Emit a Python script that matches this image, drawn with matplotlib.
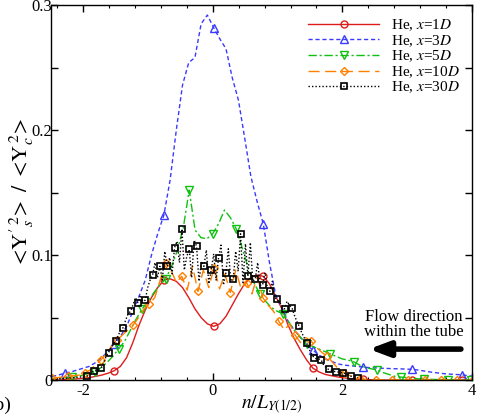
import numpy as np
import matplotlib
matplotlib.use("Agg")
import matplotlib.pyplot as plt
from matplotlib.ticker import FixedLocator, FuncFormatter

plt.rcParams['font.family'] = ['Liberation Serif', 'DejaVu Serif']
plt.rcParams['mathtext.fontset'] = 'stix'

# ---------------- data ----------------
labels = ["He, $x$=1$D$", "He, $x$=3$D$", "He, $x$=5$D$", "He, $x$=10$D$", "He, $x$=30$D$"]

# x = 1D and x = 3D share the same sampling grid
rb_x = np.linspace(-2.482, 4.039, 69)
red_y = [0.0, 0.0, 0.0003, 0.0007, 0.001, 0.0015, 0.002, 0.003, 0.004, 0.0055,
         0.0075, 0.011, 0.018, 0.030, 0.044, 0.056, 0.066, 0.074, 0.080, 0.081,
         0.079, 0.074, 0.066, 0.057, 0.050, 0.045, 0.043, 0.045, 0.051, 0.060,
         0.069, 0.077, 0.082, 0.084, 0.083, 0.077, 0.067, 0.057, 0.044, 0.033,
         0.024, 0.016, 0.0095, 0.0065, 0.0045, 0.0035, 0.0025, 0.0018, 0.0012, 0.0008,
         0.0005, 0.0003, 0.0002, 0.0001, 0.0, 0.0, 0.0, 0.0, 0.0, 0.0,
         0.0, 0.0, 0.0, 0.0, 0.0, 0.0, 0.0, 0.0, 0.0]
blue_y = [0.003, 0.004, 0.0055, 0.0065, 0.008, 0.0095, 0.011, 0.014, 0.018, 0.023,
          0.029, 0.035, 0.043, 0.055, 0.067, 0.080, 0.100, 0.117, 0.132, 0.160,
          0.200, 0.236, 0.254, 0.258, 0.285, 0.292, 0.282, 0.273, 0.265, 0.242,
          0.224, 0.194, 0.163, 0.143, 0.125, 0.094, 0.068, 0.058, 0.047, 0.040,
          0.034, 0.028, 0.024, 0.020, 0.017, 0.015, 0.013, 0.012, 0.0115, 0.011,
          0.0105, 0.010, 0.0098, 0.0095, 0.0093, 0.0091, 0.009, 0.0088, 0.0086, 0.008,
          0.0072, 0.0064, 0.0058, 0.0052, 0.0048, 0.0045, 0.0042, 0.0035, 0.003]

green_x = np.linspace(-2.543, 3.991, 73)
green_y = [0.001, 0.0012, 0.0015, 0.002, 0.0025, 0.003, 0.004, 0.0055, 0.0067, 0.010,
           0.014, 0.019, 0.025, 0.031, 0.040, 0.049, 0.057, 0.063, 0.070, 0.076,
           0.081, 0.091, 0.104, 0.122, 0.152, 0.120, 0.114, 0.113, 0.117, 0.125,
           0.136, 0.130, 0.121, 0.106, 0.090, 0.078, 0.069, 0.063, 0.058, 0.055,
           0.053, 0.046, 0.039, 0.034, 0.029, 0.027, 0.025, 0.023, 0.021, 0.019,
           0.017, 0.016, 0.0147, 0.012, 0.010, 0.009, 0.008, 0.006, 0.0045, 0.003,
           0.0024, 0.002, 0.0015, 0.001, 0.0008, 0.0006, 0.0005, 0.0004, 0.0003, 0.0002,
           0.0001, 0.0001, 0.0001]

orange_x = np.linspace(-2.48, 4.02, 79)
orange_y = [0.0015, 0.002, 0.0025, 0.003, 0.0035, 0.004, 0.0055, 0.008, 0.012, 0.016,
            0.021, 0.027, 0.032, 0.036, 0.040, 0.044, 0.050, 0.057, 0.061, 0.066,
            0.080, 0.094, 0.088, 0.078, 0.083, 0.072, 0.091, 0.071, 0.088, 0.074,
            0.090, 0.073, 0.085, 0.070, 0.088, 0.073, 0.078, 0.069, 0.083, 0.066,
            0.060, 0.055, 0.047, 0.040, 0.045, 0.036, 0.030, 0.034, 0.031, 0.026,
            0.022, 0.019, 0.014, 0.009, 0.006, 0.004, 0.002, 0.001, 0.0005, 0.0004,
            0.0003, 0.0003, 0.0002, 0.0002, 0.0002, 0.0001, 0.0001, 0.0001, 0.0001, 0.0001,
            0.0, 0.0, 0.0, 0.0, 0.0, 0.0, 0.0, 0.0, 0.0]

black_x = np.linspace(-2.4785, 2.24, 126)
black_y = [0.0, 0.0, 0.0005, 0.001, 0.001, 0.0012, 0.0015, 0.0015, 0.002, 0.002,
           0.0022, 0.0025, 0.0025, 0.0028,
           0.003, 0.004, 0.006,
           0.0075, 0.008, 0.009,
           0.0095, 0.014, 0.019,
           0.022, 0.026, 0.029,
           0.031, 0.036, 0.040,
           0.042, 0.048, 0.053,
           0.055, 0.060, 0.066,
           0.062, 0.068, 0.063,
           0.064, 0.074, 0.080,
           0.084, 0.094, 0.082,
           0.091, 0.080, 0.103,
           0.091, 0.098, 0.085,
           0.106, 0.111, 0.094,
           0.121, 0.088, 0.099,
           0.1045, 0.082, 0.112,
           0.107, 0.079, 0.095,
           0.091, 0.104, 0.077,
           0.088, 0.101, 0.080,
           0.0976, 0.108, 0.076,
           0.086, 0.105, 0.079,
           0.081, 0.103, 0.087,
           0.117, 0.078, 0.109,
           0.083, 0.110, 0.079,
           0.081, 0.094, 0.076,
           0.076, 0.086, 0.073,
           0.071, 0.079, 0.066,
           0.0645, 0.062, 0.060,
           0.057, 0.063, 0.060,
           0.058, 0.052, 0.047,
           0.043, 0.038, 0.034,
           0.030, 0.025, 0.021,
           0.018, 0.017, 0.017,
           0.016, 0.012, 0.010,
           0.0085, 0.008, 0.007,
           0.0067, 0.0064, 0.006,
           0.0059, 0.005, 0.004,
           0.0032, 0.0028, 0.0024,
           0.002]

x_ticks = [-2, 0, 2, 4]
y_ticks = [0, 0.05, 0.1, 0.15, 0.2, 0.25, 0.3]

# ---------------- figure ----------------
fig = plt.figure(figsize=(4.85, 4.2), dpi=100)
ax = fig.add_axes([0.105, 0.095, 0.868, 0.893])

ax.plot(rb_x, red_y, color='#dd1c1c', lw=1.0, ls='-', marker='o', ms=5, mfc='none',
        mew=1.0, markevery=(2, 8), label=labels[0])
ax.plot(rb_x, blue_y, color='#3a3aff', lw=1.0, ls=(0, (3, 2)), marker='^', ms=5.5, mfc='none',
        mew=1.0, markevery=(2, 8), label=labels[1])
ax.plot(green_x, green_y, color='#10c010', lw=1.0, ls=(0, (6, 2, 1.5, 2)), marker='v', ms=6,
        mfc='none', mew=1.0, markevery=(4, 4), label=labels[2])
ax.plot(orange_x, orange_y, color='#ff8000', lw=1.0, ls=(0, (8, 4)), marker='D', ms=4.5,
        mfc='none', mew=1.0, markevery=(0, 3), label=labels[3])
ax.plot(black_x, black_y, color='black', lw=1.0, ls=(0, (1, 1.5)), marker='s', ms=5,
        mfc='none', mew=1.2, markevery=(14, 3), label=labels[4])

ax.set_xlim(-2.5, 4)
ax.set_ylim(0, 0.3)

ax.xaxis.set_major_locator(FixedLocator(x_ticks))
ax.xaxis.set_minor_locator(FixedLocator(np.arange(-2.4, 4.01, 0.4)))
ax.yaxis.set_major_locator(FixedLocator(y_ticks))
ax.yaxis.set_major_formatter(FuncFormatter(
    lambda v, p: "0" if abs(v) < 1e-9 else ("%.1f" % v if abs(v * 10 - round(v * 10)) < 1e-6 else "")))
ax.xaxis.set_major_formatter(FuncFormatter(lambda v, p: "%d" % v))

ax.tick_params(which='both', direction='in', top=True, right=True, labelsize=12, pad=2)
ax.tick_params(which='major', length=5, width=1)
ax.tick_params(which='minor', length=2.5, width=0.8)
ax.tick_params(axis='y', pad=-1)
for s in ax.spines.values():
    s.set_linewidth(1.0)

ax.set_xlabel(r"$n/L_{Y(1/2)}$", fontsize=14, labelpad=-4)
ax.xaxis.set_label_coords(0.525, -0.035)
ax.set_ylabel(r"$<\!\mathrm{Y}'^{\,2}_{s}\!>\ /\ <\!\mathrm{Y}^{\,2}_{c}\!>$", fontsize=16)
ax.yaxis.set_label_coords(-0.035, 0.5)

leg = ax.legend(loc='upper right', frameon=False, fontsize=11, handlelength=4.6,
                handletextpad=0.8, labelspacing=0.0, borderaxespad=0.4)

ax.annotate("", xy=(2.41, 0.0248), xytext=(3.83, 0.0248),
            arrowprops=dict(arrowstyle="-|>,head_length=1.2,head_width=0.45",
                            lw=4, color='black', shrinkA=0, shrinkB=0))
ax.text(3.1, 0.0445, "Flow direction\nwithin the tube", ha='center', va='center',
        fontsize=12, linespacing=0.95)

fig.text(0.023, 0.036, "(b)", ha='right', va='center', fontsize=14)

fig.savefig("out.png", dpi=100)
